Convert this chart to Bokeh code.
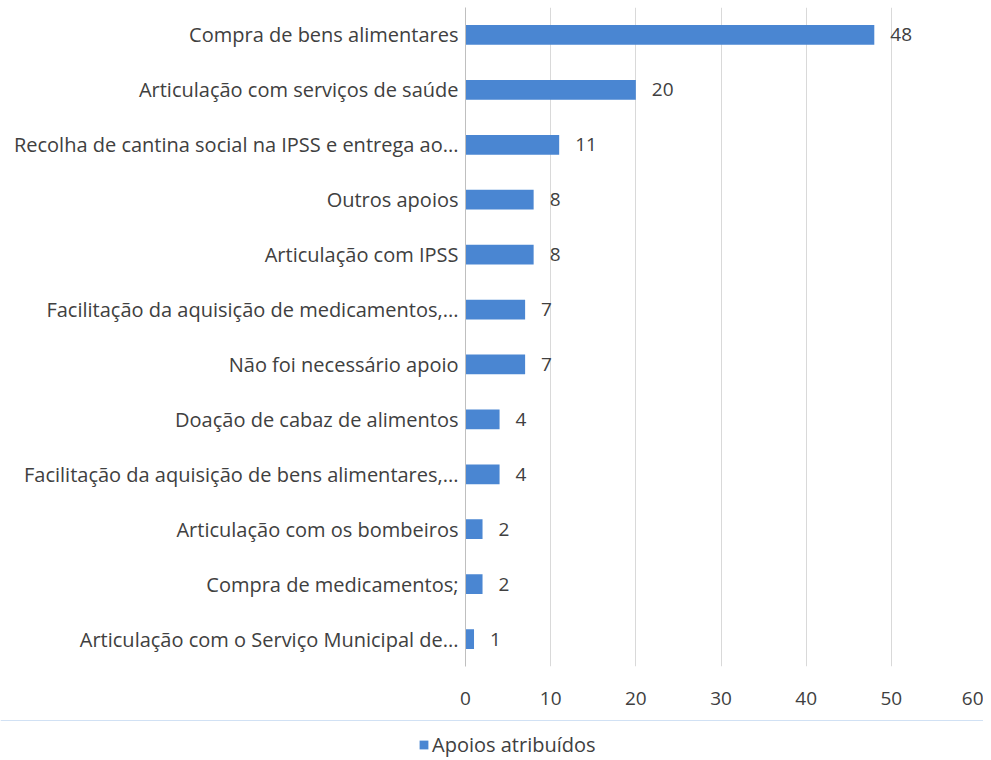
from bokeh.plotting import figure
from bokeh.models import ColumnDataSource, Legend, LegendItem, FixedTicker, LabelSet, Range1d
from bokeh.core.properties import value
from bokeh.embed import file_html
from bokeh.resources import INLINE

categories = [
    "Compra de bens alimentares",
    "Articulação com serviços de saúde",
    "Recolha de cantina social na IPSS e entrega ao...",
    "Outros apoios",
    "Articulação com IPSS",
    "Facilitação da aquisição de medicamentos,...",
    "Não foi necessário apoio",
    "Doação de cabaz de alimentos",
    "Facilitação da aquisição de bens alimentares,...",
    "Articulação com os bombeiros",
    "Compra de medicamentos;",
    "Articulação com o Serviço Municipal de...",
]
values = [48, 20, 11, 8, 8, 7, 7, 4, 4, 2, 2, 1]
x_ticks = [0, 10, 20, 30, 40, 50, 60]
series_name = "Apoios atribuídos"

FONT = "Open Sans"
TXT = "#404040"
BLUE = "#4a86d2"

source = ColumnDataSource(dict(cat=categories, val=values, lbl=[str(v) for v in values]))

p = figure(frame_width=511, frame_height=659, y_range=list(reversed(categories)),
           x_range=Range1d(0, 60), output_backend="svg", toolbar_location=None,
           min_border_left=465, min_border_right=7, min_border_top=7, min_border_bottom=54)
p.outline_line_color = None
r = p.hbar(y="cat", right="val", left=0, height=0.36, source=source,
           fill_color=BLUE, line_color=None)

labels = LabelSet(x="val", y="cat", text="lbl", source=source, x_offset=16,
                  text_baseline="middle", text_font=value(FONT), text_font_size="19px",
                  text_color=TXT)
p.add_layout(labels)

p.xaxis.ticker = FixedTicker(ticks=x_ticks)
p.xaxis.axis_line_color = None
p.xaxis.major_tick_line_color = None
p.xaxis.minor_tick_line_color = None
p.xaxis.major_tick_out = 0
p.xaxis.major_label_standoff = 25
p.xaxis.major_label_text_font = FONT
p.xaxis.major_label_text_font_size = "19px"
p.xaxis.major_label_text_color = TXT

p.yaxis.axis_line_color = "#bfbfbf"
p.yaxis.major_tick_line_color = None
p.yaxis.minor_tick_line_color = None
p.yaxis.major_tick_out = 0
p.yaxis.major_label_standoff = 7
p.yaxis.major_label_text_font = FONT
p.yaxis.major_label_text_font_size = "20px"
p.yaxis.major_label_text_color = TXT

p.xgrid.grid_line_color = "#d9d9d9"
p.ygrid.grid_line_color = None

# legend strip below the chart (separate root so it is not frame-aligned)
lg = figure(width=983, height=38, x_range=Range1d(0, 1), y_range=Range1d(0, 1),
            x_axis_type=None, y_axis_type=None, output_backend="svg",
            toolbar_location=None, min_border_left=0, min_border_right=0,
            min_border_top=0, min_border_bottom=0)
lg.outline_line_color = None
lg.xgrid.visible = False
lg.ygrid.visible = False
# proxy bar lying outside the strip's visible range, only used for the legend swatch
proxy = lg.hbar(y=[5], right=[1], left=0, height=0.36, fill_color=BLUE, line_color=None)

legend = Legend(items=[LegendItem(label=series_name, renderers=[proxy])],
                orientation="horizontal", location=(418, 0),
                label_text_font=FONT, label_text_font_size="20px",
                label_text_color=TXT, border_line_color=None, background_fill_alpha=0,
                glyph_width=11, glyph_height=11, label_standoff=3,
                padding=0, margin=0)
lg.add_layout(legend)

open("out.html", "w").write(file_html([p, lg], INLINE))
